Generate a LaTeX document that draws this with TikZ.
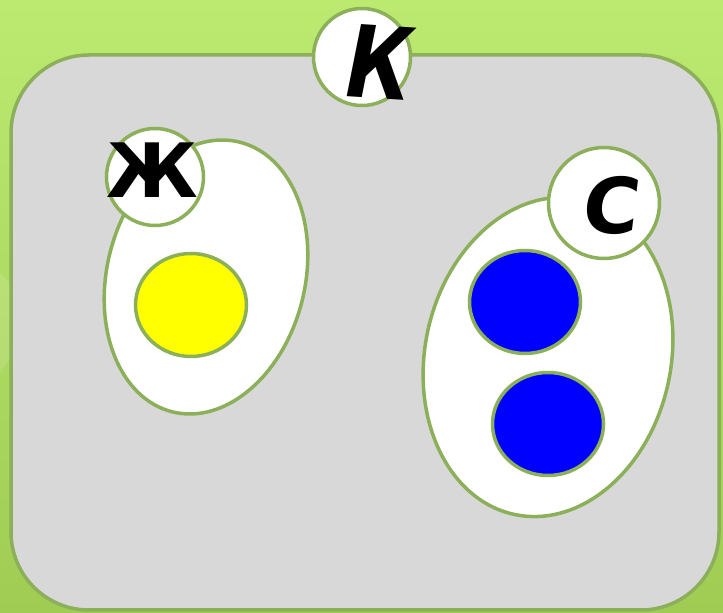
\documentclass[tikz,border=0pt]{standalone}
\usepackage{fontspec}
\setmainfont{DejaVu Sans}
\usetikzlibrary{shapes.geometric}
\definecolor{edgegreen}{RGB}{140,175,90}
\definecolor{bgtop}{RGB}{188,234,112}
\definecolor{bgbot}{RGB}{160,204,84}
\definecolor{panel}{RGB}{216,216,216}
\definecolor{yolk}{RGB}{255,255,0}
\definecolor{pureblue}{RGB}{0,0,255}
\tikzset{
  olive/.style={draw=edgegreen,line width=3.5pt},
  blob/.style={olive,ellipse,fill=white,inner sep=0pt},
  ring/.style={olive,circle,fill=white,inner sep=0pt},
  dot/.style={olive,ellipse,inner sep=0pt,minimum width=111pt,minimum height=103pt},
  letter/.style={inner sep=0pt,font=\bfseries}
}
\begin{document}
\begin{tikzpicture}[x=1pt,y=1pt]
\useasboundingbox (0,0) rectangle (723,613);
\shade[top color=bgtop,bottom color=bgbot] (0,0) rectangle (723,613);
\fill[white,opacity=0.12] (0,240) -- (40,300) -- (0,340) -- cycle;
\node[olive,fill=panel,rounded corners=78pt,minimum width=708pt,minimum height=555pt,inner sep=0pt] (panel) at (365,280.5) {};
\node[ring,minimum size=97pt] (kc) at (362,556) {};
\node[letter,font=\bfseries\itshape\fontsize{100}{100}\selectfont,xscale=0.8,rotate=-3] (k) at (380,551) {К};
\node[blob,minimum width=198pt,minimum height=278pt,rotate=-14] (zh) at (206,336) {};
\node[ring,minimum size=97pt] (zhc) at (155,436) {};
\node[letter,font=\bfseries\fontsize{75}{75}\selectfont] (zht) at (152,443) {Ж};
\node[dot,fill=yolk] (y) at (191,308) {};
\node[blob,minimum width=246pt,minimum height=322pt,rotate=-12] (s) at (548,256) {};
\node[ring,minimum size=111pt] (sc) at (604,410) {};
\node[letter,font=\bfseries\fontsize{77}{77}\selectfont,xslant=0.12] (st) at (612,408) {С};
\node[dot,fill=pureblue] (b1) at (525,311) {};
\node[dot,fill=pureblue] (b2) at (548,189) {};
\end{tikzpicture}
\end{document}
